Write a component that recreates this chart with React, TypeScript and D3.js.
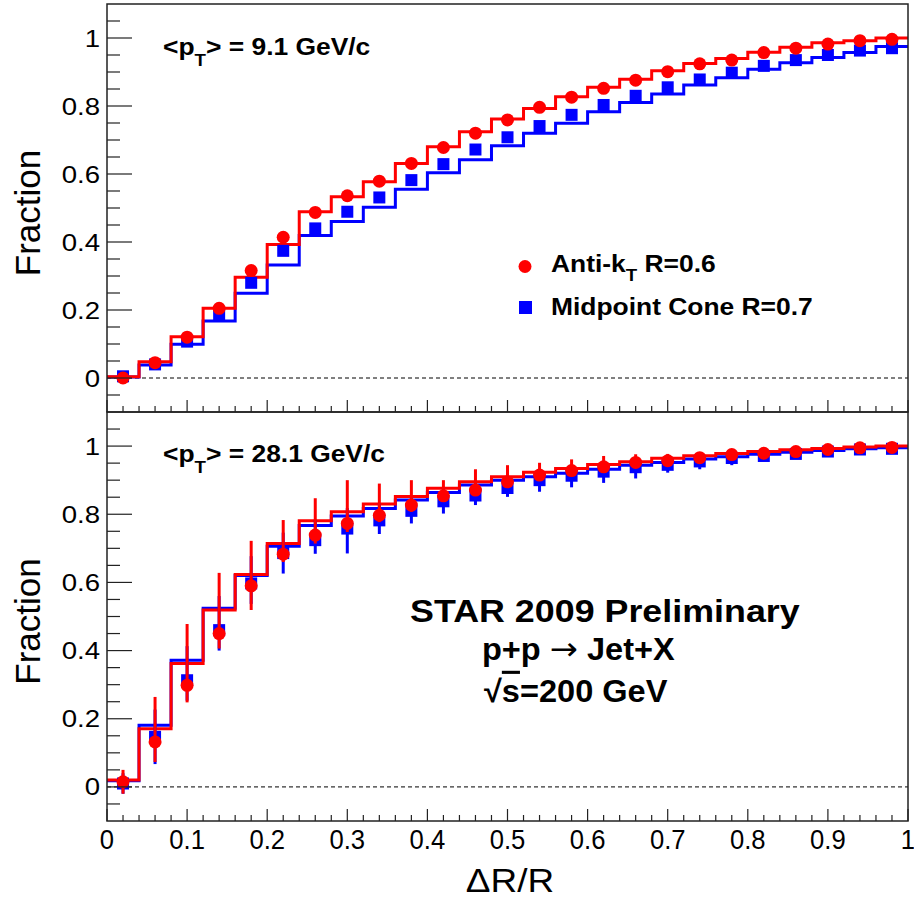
import * as d3 from "d3";

// bin centers of the dR/R histograms (bin width 0.04)
const binCenters = [
  0.02, 0.06, 0.1, 0.14, 0.18, 0.22, 0.26, 0.3, 0.34, 0.38, 0.42, 0.46, 0.5,
  0.54, 0.58, 0.62, 0.66, 0.7, 0.74, 0.78, 0.82, 0.86, 0.9, 0.94, 0.98,
];
const binWidth = 0.04;

// <pT> = 9.1 GeV/c
const lowAntiKtHist = [
  0.004, 0.048, 0.121, 0.205, 0.296, 0.393, 0.489, 0.533, 0.577, 0.631, 0.68,
  0.724, 0.762, 0.793, 0.827, 0.855, 0.879, 0.904, 0.925, 0.94, 0.958, 0.973,
  0.986, 0.992, 1.0,
];
const lowMidconeHist = [
  0.003, 0.038, 0.099, 0.168, 0.249, 0.332, 0.419, 0.46, 0.502, 0.555, 0.604,
  0.642, 0.683, 0.72, 0.749, 0.783, 0.81, 0.835, 0.862, 0.883, 0.908, 0.927,
  0.943, 0.957, 0.975,
];
const lowAntiKtData = [
  0.0, 0.045, 0.12, 0.205, 0.316, 0.414, 0.487, 0.536, 0.579, 0.631, 0.678,
  0.72, 0.759, 0.796, 0.826, 0.852, 0.876, 0.901, 0.924, 0.935, 0.957, 0.97,
  0.982, 0.992, 0.996,
];
const lowMidconeData = [
  0.005, 0.04, 0.107, 0.185, 0.28, 0.374, 0.44, 0.489, 0.531, 0.582, 0.629,
  0.672, 0.708, 0.741, 0.774, 0.803, 0.83, 0.855, 0.878, 0.898, 0.918, 0.935,
  0.95, 0.963, 0.97,
];

// <pT> = 28.1 GeV/c
const highAntiKtHist = [
  0.02, 0.171, 0.362, 0.519, 0.623, 0.714, 0.781, 0.807, 0.83, 0.852, 0.876,
  0.895, 0.91, 0.923, 0.934, 0.946, 0.954, 0.964, 0.972, 0.978, 0.984, 0.989,
  0.993, 0.997, 1.0,
];
const highMidconeHist = [
  0.018, 0.181, 0.372, 0.524, 0.62, 0.706, 0.767, 0.795, 0.817, 0.842, 0.864,
  0.886, 0.9, 0.91, 0.92, 0.932, 0.944, 0.952, 0.962, 0.969, 0.976, 0.982,
  0.987, 0.992, 0.995,
];
const highAntiKtData = [
  0.015, 0.132, 0.298, 0.45, 0.59, 0.683, 0.739, 0.773, 0.797, 0.827, 0.854,
  0.871, 0.895, 0.915, 0.928, 0.939, 0.952, 0.957, 0.966, 0.975, 0.979, 0.984,
  0.99, 0.995, 0.996,
];
const highAntiKtErrUp = [
  0.035, 0.132, 0.18, 0.178, 0.132, 0.1, 0.108, 0.127, 0.093, 0.073, 0.046,
  0.061, 0.049, 0.036, 0.033, 0.032, 0.024, 0.02, 0.015, 0.012, 0.01, 0.008,
  0.005, 0.004, 0.003,
];
const highAntiKtErrDown = [
  0.035, 0.059, 0.05, 0.044, 0.071, 0.023, 0.025, 0.025, 0.02, 0.02, 0.015,
  0.015, 0.015, 0.012, 0.01, 0.01, 0.01, 0.01, 0.01, 0.008, 0.008, 0.006,
  0.005, 0.004, 0.003,
];
const highMidconeData = [
  0.01, 0.147, 0.313, 0.46, 0.597, 0.686, 0.724, 0.758, 0.782, 0.81, 0.838,
  0.855, 0.877, 0.9, 0.913, 0.925, 0.938, 0.945, 0.955, 0.965, 0.971, 0.977,
  0.984, 0.99, 0.992,
];
const highMidconeErrUp = [
  0.03, 0.08, 0.1, 0.1, 0.08, 0.06, 0.06, 0.06, 0.05, 0.04, 0.04, 0.035, 0.03,
  0.025, 0.02, 0.02, 0.02, 0.015, 0.015, 0.012, 0.01, 0.008, 0.006, 0.005,
  0.004,
];
const highMidconeErrDown = [
  0.03, 0.08, 0.06, 0.06, 0.06, 0.06, 0.04, 0.073, 0.04, 0.037, 0.036, 0.028,
  0.026, 0.034, 0.034, 0.033, 0.033, 0.023, 0.023, 0.021, 0.015, 0.012, 0.008,
  0.006, 0.004,
];

const xTickValues = [0, 0.1, 0.2, 0.3, 0.4, 0.5, 0.6, 0.7, 0.8, 0.9, 1];
const xTickLabels = ["0", "0.1", "0.2", "0.3", "0.4", "0.5", "0.6", "0.7", "0.8", "0.9", "1"];
const yTickValues = [0, 0.2, 0.4, 0.6, 0.8, 1];
const yTickLabels = ["0", "0.2", "0.4", "0.6", "0.8", "1"];

const RED = "#ff0000";
const BLUE = "#0000ff";
const FONT = "'Liberation Sans', Arial, Helvetica, sans-serif";

const W = 914;
const H = 899;
const left = 107;
const right = 908;

const x = d3.scaleLinear().domain([0, 1]).range([left, right]);

const Txt = ({ x, y, size, sx = 1, bold = false, anchor = "start", rotate = 0, children }: any) => (
  <text
    transform={`translate(${x},${y}) rotate(${rotate}) scale(${sx},1)`}
    fontSize={size}
    fontFamily={FONT}
    fontWeight={bold ? "bold" : "normal"}
    textAnchor={anchor}
    fill="#000"
  >
    {children}
  </text>
);

const Panel = ({ top, bottom, antiHist, midHist, antiData, midData, antiUp, antiDown, midUp, midDown, showXLabels }: any) => {
  const y = d3.scaleLinear().domain([-0.1, 1.1]).range([bottom, top]);
  const step = d3
    .line<[number, number]>()
    .x((d) => x(d[0]))
    .y((d) => y(d[1]))
    .curve(d3.curveStepAfter);
  const histPts = (h: number[]): [number, number][] => [
    ...binCenters.map((c, i) => [c - binWidth / 2, h[i]] as [number, number]),
    [1, h[h.length - 1]],
  ];
  const xMinor = d3.range(0, 1.0001, 0.02);
  const yMinor = d3.range(-0.1, 1.1001, 0.05).filter((v) => v > -0.099 && v < 1.099);

  return (
    <g>
      {/* zero line */}
      <line x1={left} x2={right} y1={y(0)} y2={y(0)} stroke="#000" strokeWidth={1} strokeDasharray="4,3" />
      <path d={step(histPts(midHist)) ?? ""} fill="none" stroke={BLUE} strokeWidth={3} />
      <path d={step(histPts(antiHist)) ?? ""} fill="none" stroke={RED} strokeWidth={3} />
      {midData.map((v: number, i: number) => (
        <g key={"m" + i}>
          {midUp && (
            <line x1={x(binCenters[i])} x2={x(binCenters[i])} y1={y(v + midUp[i])} y2={y(v - midDown[i])} stroke={BLUE} strokeWidth={3} />
          )}
          <rect x={x(binCenters[i]) - 6} y={y(v) - 6} width={12} height={12} fill={BLUE} />
        </g>
      ))}
      {antiData.map((v: number, i: number) => (
        <g key={"a" + i}>
          {antiUp && (
            <line x1={x(binCenters[i])} x2={x(binCenters[i])} y1={y(v + antiUp[i])} y2={y(v - antiDown[i])} stroke={RED} strokeWidth={3} />
          )}
          <circle cx={x(binCenters[i])} cy={y(v)} r={6.5} fill={RED} />
        </g>
      ))}
      {/* frame */}
      <rect x={left} y={top} width={right - left} height={bottom - top} fill="none" stroke="#222" strokeWidth={1.5} />
      {/* x ticks */}
      {xMinor.map((v, i) => {
        const major = i % 5 === 0;
        return <line key={"xt" + i} x1={x(v)} x2={x(v)} y1={bottom} y2={bottom - (major ? 12 : 6)} stroke="#222" strokeWidth={1.2} />;
      })}
      {/* y ticks */}
      {yMinor.map((v, i) => {
        const major = Math.abs(Math.round(v * 5) - v * 5) < 1e-6 && v > -0.01;
        return <line key={"yt" + i} x1={left} x2={left + (major ? 25 : 13)} y1={y(v)} y2={y(v)} stroke="#222" strokeWidth={1.2} />;
      })}
      {yTickValues.map((v, i) => (
        <Txt key={"yl" + i} x={100} y={y(v) + 8.5} size={23} sx={1.2} anchor="end">
          {yTickLabels[i]}
        </Txt>
      ))}
      {showXLabels &&
        xTickValues.map((v, i) => (
          <Txt key={"xl" + i} x={x(v)} y={bottom + 28} size={27} sx={0.95} anchor="middle">
            {xTickLabels[i]}
          </Txt>
        ))}
      <Txt x={40} y={(top + bottom) / 2 + 5} size={35} rotate={-90} anchor="middle">
        Fraction
      </Txt>
    </g>
  );
};

export default function App() {
  return (
    <svg width={W} height={H} style={{ position: "absolute", left: 0, top: 0, background: "#fff" }}>
      <rect width={W} height={H} fill="#fff" />
      <Panel
        top={4}
        bottom={412}
        antiHist={lowAntiKtHist}
        midHist={lowMidconeHist}
        antiData={lowAntiKtData}
        midData={lowMidconeData}
        showXLabels={false}
      />
      <Panel
        top={412}
        bottom={821}
        antiHist={highAntiKtHist}
        midHist={highMidconeHist}
        antiData={highAntiKtData}
        midData={highMidconeData}
        antiUp={highAntiKtErrUp}
        antiDown={highAntiKtErrDown}
        midUp={highMidconeErrUp}
        midDown={highMidconeErrDown}
        showXLabels={true}
      />

      <Txt x={163} y={55} size={24} sx={1.1} bold>
        &lt;p<tspan fontSize={17} dy={11}>T</tspan>
        <tspan dy={-11}>&gt; = 9.1 GeV/c</tspan>
      </Txt>
      <Txt x={163} y={462} size={24} sx={1.1} bold>
        &lt;p<tspan fontSize={17} dy={11}>T</tspan>
        <tspan dy={-11}>&gt; = 28.1 GeV/c</tspan>
      </Txt>

      {/* legend */}
      <circle cx={525} cy={266.5} r={6.5} fill={RED} />
      <Txt x={551} y={272} size={24} sx={1.1} bold>
        Anti-k<tspan fontSize={17} dy={9}>T</tspan>
        <tspan dy={-9}> R=0.6</tspan>
      </Txt>
      <rect x={519} y={301} width={13} height={13} fill={BLUE} />
      <Txt x={551} y={315} size={24} sx={1.1} bold>
        Midpoint Cone R=0.7
      </Txt>

      <Txt x={410} y={622} size={32} sx={1.12} bold>
        STAR 2009 Preliminary
      </Txt>
      <Txt x={482} y={660} size={31} sx={1.05} bold>
        p+p{" "}
        <tspan fontFamily="'DejaVu Sans', sans-serif" fontWeight="normal" fontSize={32}>
          →
        </tspan>{" "}
        Jet+X
      </Txt>
      <Txt x={484} y={702} size={31} sx={1.05} bold>
        √<tspan style={{ textDecoration: "overline" }}>s</tspan>=200 GeV
      </Txt>

      <Txt x={510} y={892} size={33} sx={1.12} anchor="middle">
        ΔR/R
      </Txt>
    </svg>
  );
}
